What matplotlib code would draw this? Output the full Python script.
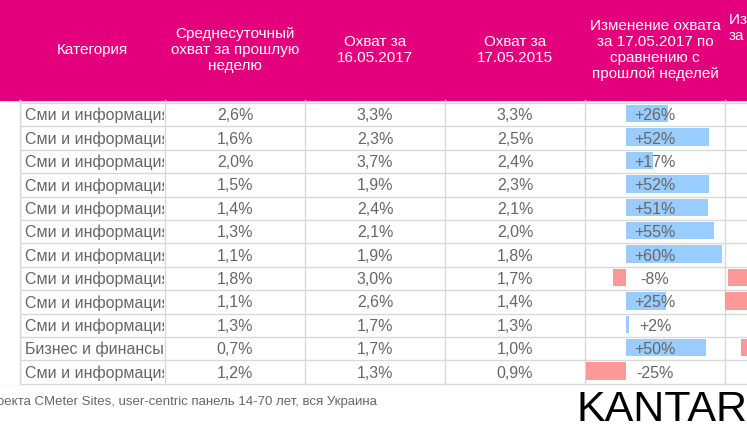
import matplotlib.pyplot as plt
from matplotlib.patches import Rectangle

plt.rcParams["font.family"] = "Liberation Sans"

categories = ["Сми и информация"] * 10 + ["Бизнес и финансы", "Сми и информация"]
avg_last_week = ["2,6%", "1,6%", "2,0%", "1,5%", "1,4%", "1,3%", "1,1%", "1,8%", "1,1%", "1,3%", "0,7%", "1,2%"]
reach_1605 = ["3,3%", "2,3%", "3,7%", "1,9%", "2,4%", "2,1%", "1,9%", "3,0%", "2,6%", "1,7%", "1,7%", "1,3%"]
reach_1705 = ["3,3%", "2,5%", "2,4%", "2,3%", "2,1%", "2,0%", "1,8%", "1,7%", "1,4%", "1,3%", "1,0%", "0,9%"]
change = [26, 52, 17, 52, 51, 55, 60, -8, 25, 2, 50, -25]
# partly visible next column (only negative bars visible)
next_col = [0, 0, 0, 0, 0, 0, 0, -12, -14, 0, -4, 0]

headers = ["Категория", "Среднесуточный\nохват за прошлую\nнеделю", "Охват за\n16.05.2017",
           "Охват за\n17.05.2015", "Изменение охвата\nза 17.05.2017 по\nсравнению с\nпрошлой неделей"]

W, H = 747, 433
fig = plt.figure(figsize=(W / 100, H / 100), dpi=100)
ax = fig.add_axes([0, 0, 1, 1])
ax.set_xlim(0, W)
ax.set_ylim(H, 0)
ax.axis("off")

magenta = "#E4007C"
grey = "#666666"
cols = [20, 165, 305, 445, 585, 725]
top, rh = 103, 23.4
n = len(categories)

ax.add_patch(Rectangle((0, 0), W, 100, color=magenta, zorder=1))
for i, h in enumerate(headers):
    ax.text((cols[i] + cols[i + 1]) / 2, 50, h, color="white", ha="center", va="center",
            fontsize=11, linespacing=1.2, zorder=3)
ax.text(729, 28, "Изменение охвата\nза", color="white", ha="left", va="center",
        fontsize=11, linespacing=1.2, zorder=3, clip_on=True)

bottom = top + n * rh
for x in cols:
    ax.plot([x, x], [100, bottom], color="#d8d8d8", lw=1, zorder=2)
for r in range(n + 1):
    ax.plot([0, W], [top + r * rh] * 2, color="#d8d8d8", lw=1, zorder=2)

ys = [top + (r + 0.5) * rh for r in range(n)]
zero, scale = 626, 1.6
bar_h = rh - 6
ax.barh([y - 1 for y in ys], [c * scale for c in change], left=zero, height=bar_h,
        color=["#99CCFF" if c >= 0 else "#FF9999" for c in change], zorder=2)
ax.barh([y - 1 for y in ys], [abs(c) * scale for c in next_col],
        left=[W - abs(c) * scale for c in next_col], height=bar_h, color="#FF9999", zorder=2)

clip = Rectangle((20, top), 144, n * rh, transform=ax.transData, visible=False)
ax.add_patch(clip)
for r, y in enumerate(ys):
    t = ax.text(25, y + 1, categories[r], color=grey, ha="left", va="center", fontsize=11.5,
                zorder=3, clip_on=True)
    t.set_clip_path(clip)
    ax.text(235, y + 1, avg_last_week[r], color=grey, ha="center", va="center", fontsize=11.5, zorder=3)
    ax.text(375, y + 1, reach_1605[r], color=grey, ha="center", va="center", fontsize=11.5, zorder=3)
    ax.text(515, y + 1, reach_1705[r], color=grey, ha="center", va="center", fontsize=11.5, zorder=3)
    ax.text(655, y + 1, f"{change[r]:+d}%", color=grey, ha="center", va="center", fontsize=11.5, zorder=3)
ax.add_patch(Rectangle((0, top), 20, n * rh, color="white", zorder=2.5))
ax.plot([20, 20], [100, bottom], color="#d8d8d8", lw=1, zorder=2.6)

ax.text(-3, 402, "оекта CMeter Sites, user-centric панель 14-70 лет, вся Украина", color=grey,
        ha="left", va="center", fontsize=9.5)
ax.text(576, 410, "KANTAR", color="black", ha="left", va="center", fontsize=31,
        fontweight="medium", zorder=3)

fig.savefig("out.png", dpi=100)
